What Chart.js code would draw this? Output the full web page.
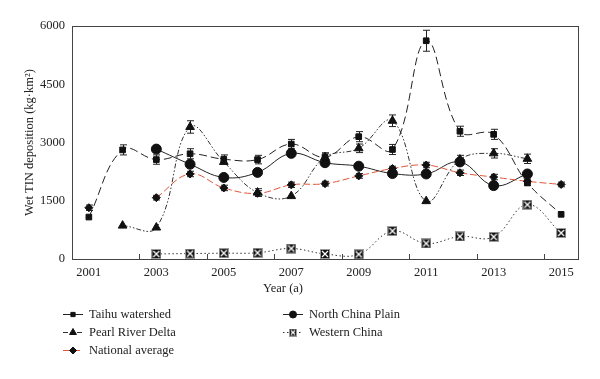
<!DOCTYPE html>
<html><head><meta charset="utf-8">
<script src="https://cdn.jsdelivr.net/npm/chart.js@4/dist/chart.umd.min.js"></script>
<style>html,body{margin:0;padding:0;background:#fff}</style>
</head><body>
<canvas id="c" width="600" height="379"></canvas>
<script>
const years = [2001,2002,2003,2004,2005,2006,2007,2008,2009,2010,2011,2012,2013,2014,2015];
const taihu    = [1080,2810,2560,2710,2570,2560,2960,2620,3150,2820,5620,3290,3210,1960,1150];
const taihuErr = [0,130,120,130,110,110,120,110,130,130,270,130,130,70,0];
const ncp      = [null,null,2830,2440,2100,2230,2720,2480,2390,2200,2190,2500,1890,2190,null];
const prd      = [null,860,810,3400,2500,1710,1620,2620,2850,3560,1490,2560,2720,2580,null];
const prdErr   = [0,0,0,160,0,100,0,110,110,150,0,110,120,120,0];
const national = [1320,null,1580,2190,1830,1690,1910,1940,2140,2330,2420,2220,2110,2000,1920];
const nationalErr = [70,0,60,70,70,70,70,60,60,60,70,70,70,60,60];
const western  = [null,null,130,140,150,160,270,130,120,720,400,580,570,1400,670];
const xTickLabels = [2001,2003,2005,2007,2009,2011,2013,2015];
const xInnerTicks = [2002.5,2004.5,2006.5,2008.5,2010.5,2012.5,2014.5];
const yTickLabels = [0,1500,3000,4500,6000];

const FONT = "'Liberation Serif', 'Times New Roman', serif";

function makeXBox(n){
  const c = document.createElement('canvas'); c.width = n; c.height = n;
  const g = c.getContext('2d');
  g.fillStyle = '#111'; g.fillRect(0,0,n,n);
  g.strokeStyle = '#999'; g.lineWidth = 1; g.strokeRect(0.5,0.5,n-1,n-1);
  g.strokeStyle = '#fff'; g.lineWidth = 1.3;
  g.beginPath(); g.moveTo(2,2); g.lineTo(n-2,n-2); g.moveTo(n-2,2); g.lineTo(2,n-2); g.stroke();
  return c;
}
const xBox = makeXBox(10), xBoxSmall = makeXBox(8);

const pts = arr => years.map((y,i)=>({x:y, y:arr[i]}));

const series = [
  {label:'Taihu watershed', data:pts(taihu), err:taihuErr, borderColor:'#222', borderDash:[8,4], pointStyle:'rect', pointRadius:4, legStyle:'rect', legR:3, col:0, row:0},
  {label:'Pearl River Delta', data:pts(prd), err:prdErr, borderColor:'#333', borderDash:[5,2,1.5,2,1.5,2], pointStyle:'triangle', pointRadius:5, legStyle:'triangle', legR:4, col:0, row:1},
  {label:'National average', data:pts(national), err:nationalErr, borderColor:'#e2553a', borderDash:[7,3], pointStyle:'rectRot', pointRadius:4, legStyle:'rectRot', legR:3.5, col:0, row:2},
  {label:'North China Plain', data:pts(ncp), err:null, borderColor:'#222', borderDash:[], pointStyle:'circle', pointRadius:5, legStyle:'circle', legR:3.5, col:1, row:0},
  {label:'Western China', data:pts(western), err:null, borderColor:'#333', borderDash:[1.5,2.5], pointStyle:xBox, pointRadius:5, legStyle:xBoxSmall, legR:4, col:1, row:1},
];

const datasets = series.map(s=>({
  label:s.label, data:s.data, err:s.err,
  borderColor:s.borderColor, borderWidth:1, borderDash:s.borderDash,
  pointStyle:s.pointStyle, pointRadius:s.pointRadius, pointHoverRadius:s.pointRadius,
  pointBackgroundColor:'#111', pointBorderColor:'#111', pointBorderWidth:1,
  tension:0.4, spanGaps:false, fill:false
}));

const extras = {
  id:'extras',
  beforeDatasetsDraw(chart){
    const {ctx, scales:{x,y}} = chart;
    ctx.save();
    ctx.strokeStyle = '#222'; ctx.lineWidth = 1;
    chart.data.datasets.forEach(ds=>{
      if(!ds.err) return;
      ds.data.forEach((p,i)=>{
        const e = ds.err[i];
        if(p.y==null || !e) return;
        const px = Math.round(x.getPixelForValue(p.x))+0.5;
        const y1 = y.getPixelForValue(p.y+e), y2 = y.getPixelForValue(p.y-e);
        ctx.beginPath();
        ctx.moveTo(px,y1); ctx.lineTo(px,y2);
        ctx.moveTo(px-3.5,y1); ctx.lineTo(px+3.5,y1);
        ctx.moveTo(px-3.5,y2); ctx.lineTo(px+3.5,y2);
        ctx.stroke();
      });
    });
    ctx.restore();
  },
  afterDraw(chart){
    const {ctx, chartArea:a, scales:{x}} = chart;
    ctx.save();
    ctx.strokeStyle = '#444'; ctx.lineWidth = 1;
    ctx.strokeRect(Math.round(a.left)+0.5, Math.round(a.top)+0.5, Math.round(a.right-a.left), Math.round(a.bottom-a.top));
    ctx.beginPath();
    xInnerTicks.forEach(v=>{
      const px = Math.round(x.getPixelForValue(v))+0.5;
      ctx.moveTo(px, a.bottom); ctx.lineTo(px, a.bottom-5);
    });
    ctx.stroke();
    ctx.fillStyle = '#222';
    ctx.font = '12.5px ' + FONT;
    ctx.textAlign = 'center'; ctx.textBaseline = 'middle';
    ctx.fillText('Year (a)', 283, 289);
    const colX = [63, 283], rowY = [314, 332, 350];
    series.forEach((s,i)=>{
      const lx = colX[s.col], ly = rowY[s.row];
      ctx.strokeStyle = s.borderColor; ctx.lineWidth = 1;
      ctx.setLineDash(s.borderDash);
      ctx.beginPath(); ctx.moveTo(lx, ly+0.5); ctx.lineTo(lx+20, ly+0.5); ctx.stroke();
      ctx.setLineDash([]);
      ctx.fillStyle = '#111'; ctx.strokeStyle = '#111';
      Chart.helpers.drawPoint(ctx, {pointStyle:s.legStyle, radius:s.legR, borderWidth:1, rotation:0}, lx+10, ly+0.5);
      ctx.fillStyle = '#222';
      ctx.font = '12.5px ' + FONT;
      ctx.textAlign = 'left'; ctx.textBaseline = 'middle';
      ctx.fillText(s.label, lx+26, ly+1);
    });
    ctx.restore();
  }
};

new Chart(document.getElementById('c'), {
  type:'line',
  data:{datasets},
  plugins:[extras],
  options:{
    responsive:false, animation:false,
    layout:{padding:{left:0, right:22, top:26, bottom:0}},
    plugins:{legend:{display:false}, tooltip:{enabled:false}},
    scales:{
      x:{
        type:'linear', min:2000.5, max:2015.5,
        afterBuildTicks(s){ s.ticks = xTickLabels.map(v=>({value:v})); },
        afterFit(s){ s.height = 120; },
        grid:{display:false, drawTicks:false},
        border:{display:false},
        ticks:{padding:6, color:'#222', font:{family:FONT, size:12.5}, maxRotation:0, autoSkip:false, callback:v=>String(v)}
      },
      y:{
        min:0, max:6000,
        afterBuildTicks(s){ s.ticks = yTickLabels.map(v=>({value:v})); },
        afterFit(s){ s.width = 72; },
        grid:{display:false, drawTicks:false},
        border:{display:false},
        ticks:{padding:7, color:'#222', font:{family:FONT, size:12.5}, callback:v=>String(v)},
        title:{display:true, text:'Wet TIN deposition (kg·km²)', color:'#222', font:{family:FONT, size:12.5}, padding:{top:22, bottom:0}}
      }
    }
  }
});
</script>
</body></html>
